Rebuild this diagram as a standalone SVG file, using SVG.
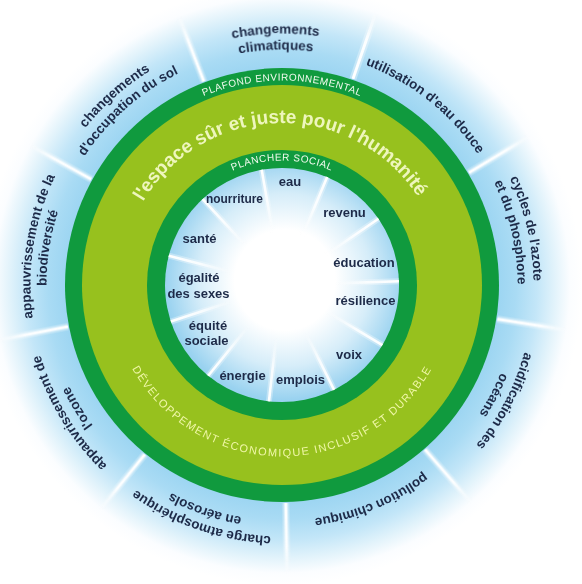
<svg xmlns="http://www.w3.org/2000/svg" width="582" height="584" viewBox="0 0 582 584">
<style>
.ol{font-family:"Liberation Sans",Arial,sans-serif;font-weight:bold;font-size:13.5px;fill:#1d2a48;text-anchor:middle}
.il{font-family:"Liberation Sans",Arial,sans-serif;font-weight:bold;font-size:13px;fill:#1d2a48;text-anchor:middle}
.band{font-family:"Liberation Sans",Arial,sans-serif;font-size:10px;fill:#f2fbef;letter-spacing:0.5px;text-anchor:middle}
.title{font-family:"Liberation Sans",Arial,sans-serif;font-weight:bold;font-size:19px;fill:#eef6bd;text-anchor:middle}
.dev{font-family:"Liberation Sans",Arial,sans-serif;font-size:11px;fill:#f0f7a8;letter-spacing:1.4px;text-anchor:middle}
.spo{stroke:url(#gSpO);stroke-width:3;fill:none}
.spog{stroke:url(#gSpO);stroke-width:7;opacity:0.35;fill:none}
.spi{stroke:url(#gSpI);stroke-width:2.6;fill:none}
.spig{stroke:url(#gSpI);stroke-width:6;opacity:0.35;fill:none}
</style>
<defs>
<radialGradient id="gOuter" gradientUnits="userSpaceOnUse" cx="282" cy="285" r="300">
<stop offset="0.70" stop-color="#98d3f1"/>
<stop offset="0.78" stop-color="#a9dbf4"/>
<stop offset="0.85" stop-color="#c3e6f8"/>
<stop offset="0.91" stop-color="#e2f3fb"/>
<stop offset="0.96" stop-color="#fbfdff"/>
<stop offset="1" stop-color="#ffffff"/>
</radialGradient>
<radialGradient id="gInner" gradientUnits="userSpaceOnUse" cx="285" cy="280" r="120">
<stop offset="0" stop-color="#ffffff"/>
<stop offset="0.42" stop-color="#ffffff"/>
<stop offset="0.72" stop-color="#d6edf9"/>
<stop offset="1" stop-color="#99d2f0"/>
</radialGradient>
<linearGradient id="gSpO" gradientUnits="userSpaceOnUse" x1="282" y1="67" x2="282" y2="-5">
<stop offset="0" stop-color="#fff" stop-opacity="1"/>
<stop offset="0.6" stop-color="#fff" stop-opacity="0.9"/>
<stop offset="1" stop-color="#fff" stop-opacity="0"/>
</linearGradient>
<linearGradient id="gSpI" gradientUnits="userSpaceOnUse" x1="282" y1="168" x2="282" y2="232">
<stop offset="0" stop-color="#fff" stop-opacity="1"/>
<stop offset="0.5" stop-color="#fff" stop-opacity="0.8"/>
<stop offset="1" stop-color="#fff" stop-opacity="0"/>
</linearGradient>
<filter id="soft" x="-50%" y="-50%" width="200%" height="200%"><feGaussianBlur stdDeviation="0.6"/></filter>
<path id="aO1" d="M34.32 241.33 A251.5 251.5 0 0 1 529.68 241.33"/>
<path id="aO2" d="M50.08 244.11 A235.5 235.5 0 0 1 513.92 244.11"/>
<path id="aT" d="M122.46 256.87 A162 162 0 0 1 441.54 256.87"/>
<path id="aPF" d="M80.61 249.49 A204.5 204.5 0 0 1 483.39 249.49"/>
<path id="aPS" d="M159.39 263.38 A124.5 124.5 0 0 1 404.61 263.38"/>
<path id="aD" d="M113.11 314.78 A171.5 171.5 0 0 0 450.89 314.78"/>
</defs>
<rect width="582" height="584" fill="#ffffff"/>
<circle id="outer-field" cx="282" cy="285" r="300" fill="url(#gOuter)"/>
<g id="dividers-outer" filter="url(#soft)">
<g transform="rotate(19 282 285)"><line class="spog" x1="282" y1="67" x2="282" y2="-8"/><line class="spo" x1="282" y1="67" x2="282" y2="-8"/></g>
<g transform="rotate(59 282 285)"><line class="spog" x1="282" y1="67" x2="282" y2="-8"/><line class="spo" x1="282" y1="67" x2="282" y2="-8"/></g>
<g transform="rotate(99 282 285)"><line class="spog" x1="282" y1="67" x2="282" y2="-8"/><line class="spo" x1="282" y1="67" x2="282" y2="-8"/></g>
<g transform="rotate(139 282 285)"><line class="spog" x1="282" y1="67" x2="282" y2="-8"/><line class="spo" x1="282" y1="67" x2="282" y2="-8"/></g>
<g transform="rotate(179 282 285)"><line class="spog" x1="282" y1="67" x2="282" y2="-8"/><line class="spo" x1="282" y1="67" x2="282" y2="-8"/></g>
<g transform="rotate(219 282 285)"><line class="spog" x1="282" y1="67" x2="282" y2="-8"/><line class="spo" x1="282" y1="67" x2="282" y2="-8"/></g>
<g transform="rotate(259 282 285)"><line class="spog" x1="282" y1="67" x2="282" y2="-8"/><line class="spo" x1="282" y1="67" x2="282" y2="-8"/></g>
<g transform="rotate(299 282 285)"><line class="spog" x1="282" y1="67" x2="282" y2="-8"/><line class="spo" x1="282" y1="67" x2="282" y2="-8"/></g>
<g transform="rotate(339 282 285)"><line class="spog" x1="282" y1="67" x2="282" y2="-8"/><line class="spo" x1="282" y1="67" x2="282" y2="-8"/></g>
</g>
<g id="ring-ceiling">
<circle cx="282" cy="285" r="217" fill="#109a3e"/>
<text class="band"><textPath href="#aPF" startOffset="50%">PLAFOND ENVIRONNEMENTAL</textPath></text>
</g>
<g id="safe-space">
<circle cx="282" cy="285" r="200" fill="#97c11e"/>
<g transform="rotate(-1 282 285)"><text class="title"><textPath href="#aT" startOffset="50%">l'espace sûr et juste pour l'humanité</textPath></text></g>
<text class="dev"><textPath href="#aD" startOffset="50%">DÉVELOPPEMENT ÉCONOMIQUE INCLUSIF ET DURABLE</textPath></text>
</g>
<g id="ring-floor">
<circle cx="282" cy="285" r="135" fill="#109a3e"/>
<text class="band"><textPath href="#aPS" startOffset="50%">PLANCHER SOCIAL</textPath></text>
</g>
<circle id="inner-field" cx="282" cy="285" r="117" fill="url(#gInner)"/>
<g id="dividers-inner" filter="url(#soft)">
<g transform="rotate(-10 282 285)"><line class="spig" x1="282" y1="168" x2="282" y2="232"/><line class="spi" x1="282" y1="168" x2="282" y2="232"/></g>
<g transform="rotate(22.7 282 285)"><line class="spig" x1="282" y1="168" x2="282" y2="232"/><line class="spi" x1="282" y1="168" x2="282" y2="232"/></g>
<g transform="rotate(55.5 282 285)"><line class="spig" x1="282" y1="168" x2="282" y2="232"/><line class="spi" x1="282" y1="168" x2="282" y2="232"/></g>
<g transform="rotate(88.2 282 285)"><line class="spig" x1="282" y1="168" x2="282" y2="232"/><line class="spi" x1="282" y1="168" x2="282" y2="232"/></g>
<g transform="rotate(120.9 282 285)"><line class="spig" x1="282" y1="168" x2="282" y2="232"/><line class="spi" x1="282" y1="168" x2="282" y2="232"/></g>
<g transform="rotate(153.6 282 285)"><line class="spig" x1="282" y1="168" x2="282" y2="232"/><line class="spi" x1="282" y1="168" x2="282" y2="232"/></g>
<g transform="rotate(186.4 282 285)"><line class="spig" x1="282" y1="168" x2="282" y2="232"/><line class="spi" x1="282" y1="168" x2="282" y2="232"/></g>
<g transform="rotate(219.1 282 285)"><line class="spig" x1="282" y1="168" x2="282" y2="232"/><line class="spi" x1="282" y1="168" x2="282" y2="232"/></g>
<g transform="rotate(251.8 282 285)"><line class="spig" x1="282" y1="168" x2="282" y2="232"/><line class="spi" x1="282" y1="168" x2="282" y2="232"/></g>
<g transform="rotate(284.5 282 285)"><line class="spig" x1="282" y1="168" x2="282" y2="232"/><line class="spi" x1="282" y1="168" x2="282" y2="232"/></g>
<g transform="rotate(317.3 282 285)"><line class="spig" x1="282" y1="168" x2="282" y2="232"/><line class="spi" x1="282" y1="168" x2="282" y2="232"/></g>
</g>
<g id="boundaries">
<g id="b-climat" transform="rotate(-1.5 282 285)"><text class="ol"><textPath href="#aO1" startOffset="50%">changements</textPath></text><text class="ol"><textPath href="#aO2" startOffset="50%">climatiques</textPath></text></g>
<g id="b-eau" transform="rotate(38.5 282 285)"><text class="ol"><textPath href="#aO2" startOffset="50%">utilisation d'eau douce</textPath></text></g>
<g id="b-azote" transform="rotate(77 282 285)"><text class="ol"><textPath href="#aO1" startOffset="50%">cycles de l'azote</textPath></text><text class="ol"><textPath href="#aO2" startOffset="50%">et du phosphore</textPath></text></g>
<g id="b-ocean" transform="rotate(117.5 282 285)"><text class="ol"><textPath href="#aO1" startOffset="50%">acidification des</textPath></text><text class="ol"><textPath href="#aO2" startOffset="50%">océans</textPath></text></g>
<g id="b-chimie" transform="rotate(157.5 282 285)"><text class="ol"><textPath href="#aO2" startOffset="50%">pollution chimique</textPath></text></g>
<g id="b-aerosol" transform="rotate(199 282 285)"><text class="ol"><textPath href="#aO1" startOffset="50%">charge atmosphérique</textPath></text><text class="ol"><textPath href="#aO2" startOffset="50%">en aérosols</textPath></text></g>
<g id="b-ozone" transform="rotate(239 282 285)"><text class="ol"><textPath href="#aO1" startOffset="50%">appauvrissement de</textPath></text><text class="ol"><textPath href="#aO2" startOffset="50%">l'ozone</textPath></text></g>
<g id="b-biodiv" transform="rotate(279 282 285)"><text class="ol"><textPath href="#aO1" startOffset="50%">appauvrissement de la</textPath></text><text class="ol"><textPath href="#aO2" startOffset="50%">biodiversité</textPath></text></g>
<g id="b-sol" transform="rotate(318.5 282 285)"><text class="ol"><textPath href="#aO1" startOffset="50%">changements</textPath></text><text class="ol"><textPath href="#aO2" startOffset="50%">d'occupation du sol</textPath></text></g>
</g>
<g id="foundations">
<text id="f-eau" class="il" x="290" y="186">eau</text>
<text id="f-nourriture" class="il" x="234.5" y="203" textLength="57" lengthAdjust="spacingAndGlyphs">nourriture</text>
<text id="f-revenu" class="il" x="344.5" y="216.5">revenu</text>
<text id="f-sante" class="il" x="199.5" y="243">santé</text>
<text id="f-education" class="il" x="364" y="266.5">éducation</text>
<text id="f-egalite" class="il"><tspan x="199" y="282">égalité</tspan><tspan x="198.5" y="298">des sexes</tspan></text>
<text id="f-resilience" class="il" x="365.5" y="305">résilience</text>
<text id="f-equite" class="il"><tspan x="208" y="330">équité</tspan><tspan x="206.5" y="345">sociale</tspan></text>
<text id="f-voix" class="il" x="349" y="359">voix</text>
<text id="f-energie" class="il" x="242.5" y="380">énergie</text>
<text id="f-emplois" class="il" x="300.5" y="383.5">emplois</text>
</g>
</svg>
